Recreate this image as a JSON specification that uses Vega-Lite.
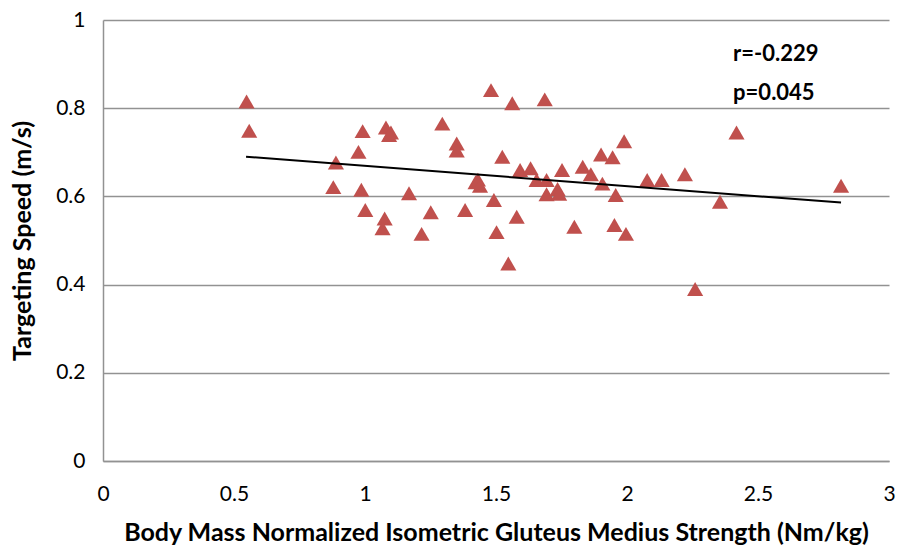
{
  "$schema": "https://vega.github.io/schema/vega-lite/v6.json",
  "autosize": "none",
  "width": 786,
  "height": 441,
  "padding": {"left": 103, "top": 20, "right": 13, "bottom": 88},
  "background": "white",
  "config": {
    "view": {"stroke": null},
    "font": "Lato",
    "axis": {
      "labelFont": "Lato",
      "titleFont": "Lato",
      "labelFontSize": 21,
      "titleFontSize": 25,
      "labelColor": "#000",
      "titleColor": "#000",
      "titleFontWeight": "bold",
      "domainColor": "#929292",
      "domainWidth": 1.5,
      "gridColor": "#929292",
      "gridWidth": 1.5,
      "ticks": false,
      "format": "~g"
    }
  },
  "datasets": {
    "pts": [
      {"x": 0.548, "y": 0.815}, {"x": 0.558, "y": 0.749}, {"x": 0.889, "y": 0.677}, {"x": 0.879, "y": 0.621},
      {"x": 0.975, "y": 0.701}, {"x": 0.991, "y": 0.748}, {"x": 0.986, "y": 0.615}, {"x": 1.001, "y": 0.569},
      {"x": 1.08, "y": 0.756}, {"x": 1.099, "y": 0.745}, {"x": 1.092, "y": 0.739}, {"x": 1.075, "y": 0.55},
      {"x": 1.067, "y": 0.528}, {"x": 1.168, "y": 0.607}, {"x": 1.216, "y": 0.515}, {"x": 1.251, "y": 0.564},
      {"x": 1.295, "y": 0.765}, {"x": 1.35, "y": 0.72}, {"x": 1.35, "y": 0.704}, {"x": 1.382, "y": 0.569},
      {"x": 1.422, "y": 0.632}, {"x": 1.431, "y": 0.638}, {"x": 1.439, "y": 0.624}, {"x": 1.481, "y": 0.841},
      {"x": 1.492, "y": 0.592}, {"x": 1.502, "y": 0.519}, {"x": 1.524, "y": 0.69}, {"x": 1.547, "y": 0.448},
      {"x": 1.562, "y": 0.811}, {"x": 1.579, "y": 0.554}, {"x": 1.592, "y": 0.66}, {"x": 1.632, "y": 0.664},
      {"x": 1.655, "y": 0.637}, {"x": 1.686, "y": 0.82}, {"x": 1.693, "y": 0.637}, {"x": 1.693, "y": 0.605},
      {"x": 1.735, "y": 0.617}, {"x": 1.741, "y": 0.606}, {"x": 1.752, "y": 0.66}, {"x": 1.799, "y": 0.531},
      {"x": 1.831, "y": 0.667}, {"x": 1.862, "y": 0.65}, {"x": 1.901, "y": 0.695}, {"x": 1.906, "y": 0.629},
      {"x": 1.945, "y": 0.689}, {"x": 1.957, "y": 0.603}, {"x": 1.952, "y": 0.535}, {"x": 1.989, "y": 0.725},
      {"x": 1.996, "y": 0.515}, {"x": 2.077, "y": 0.637}, {"x": 2.132, "y": 0.637}, {"x": 2.221, "y": 0.65},
      {"x": 2.26, "y": 0.39}, {"x": 2.355, "y": 0.588}, {"x": 2.418, "y": 0.745}, {"x": 2.817, "y": 0.624}
    ],
    "fit": [{"x": 0.546, "y": 0.69}, {"x": 2.817, "y": 0.586}],
    "ann": [{"x": 2.405, "y": 0.922, "t": "r=-0.229"}, {"x": 2.405, "y": 0.835, "t": "p=0.045"}]
  },
  "layer": [
    {
      "data": {"name": "pts"},
      "mark": {"type": "point", "shape": "triangle-up", "filled": true, "color": "#C0504D", "opacity": 1, "size": 260},
      "encoding": {
        "x": {
          "field": "x", "type": "quantitative",
          "scale": {"domain": [0, 3], "nice": false, "zero": false},
          "axis": {"values": [0, 0.5, 1, 1.5, 2, 2.5, 3], "grid": false, "labelPadding": 22, "titlePadding": 16,
                   "title": "Body Mass Normalized Isometric Gluteus Medius Strength (Nm/kg)", "labelFlush": false}
        },
        "y": {
          "field": "y", "type": "quantitative",
          "scale": {"domain": [0, 1], "nice": false},
          "axis": {"values": [0, 0.2, 0.4, 0.6, 0.8, 1], "grid": true, "labelPadding": 18, "titlePadding": 20,
                   "title": "Targeting Speed (m/s)", "labelFlush": false}
        }
      }
    },
    {
      "data": {"name": "fit"},
      "mark": {"type": "line", "color": "#000", "strokeWidth": 2},
      "encoding": {
        "x": {"field": "x", "type": "quantitative"},
        "y": {"field": "y", "type": "quantitative"}
      }
    },
    {
      "data": {"name": "ann"},
      "mark": {"type": "text", "align": "left", "baseline": "middle", "fontSize": 22, "fontWeight": "bold", "font": "Lato", "color": "#000"},
      "encoding": {
        "x": {"field": "x", "type": "quantitative"},
        "y": {"field": "y", "type": "quantitative"},
        "text": {"field": "t"}
      }
    }
  ]
}
